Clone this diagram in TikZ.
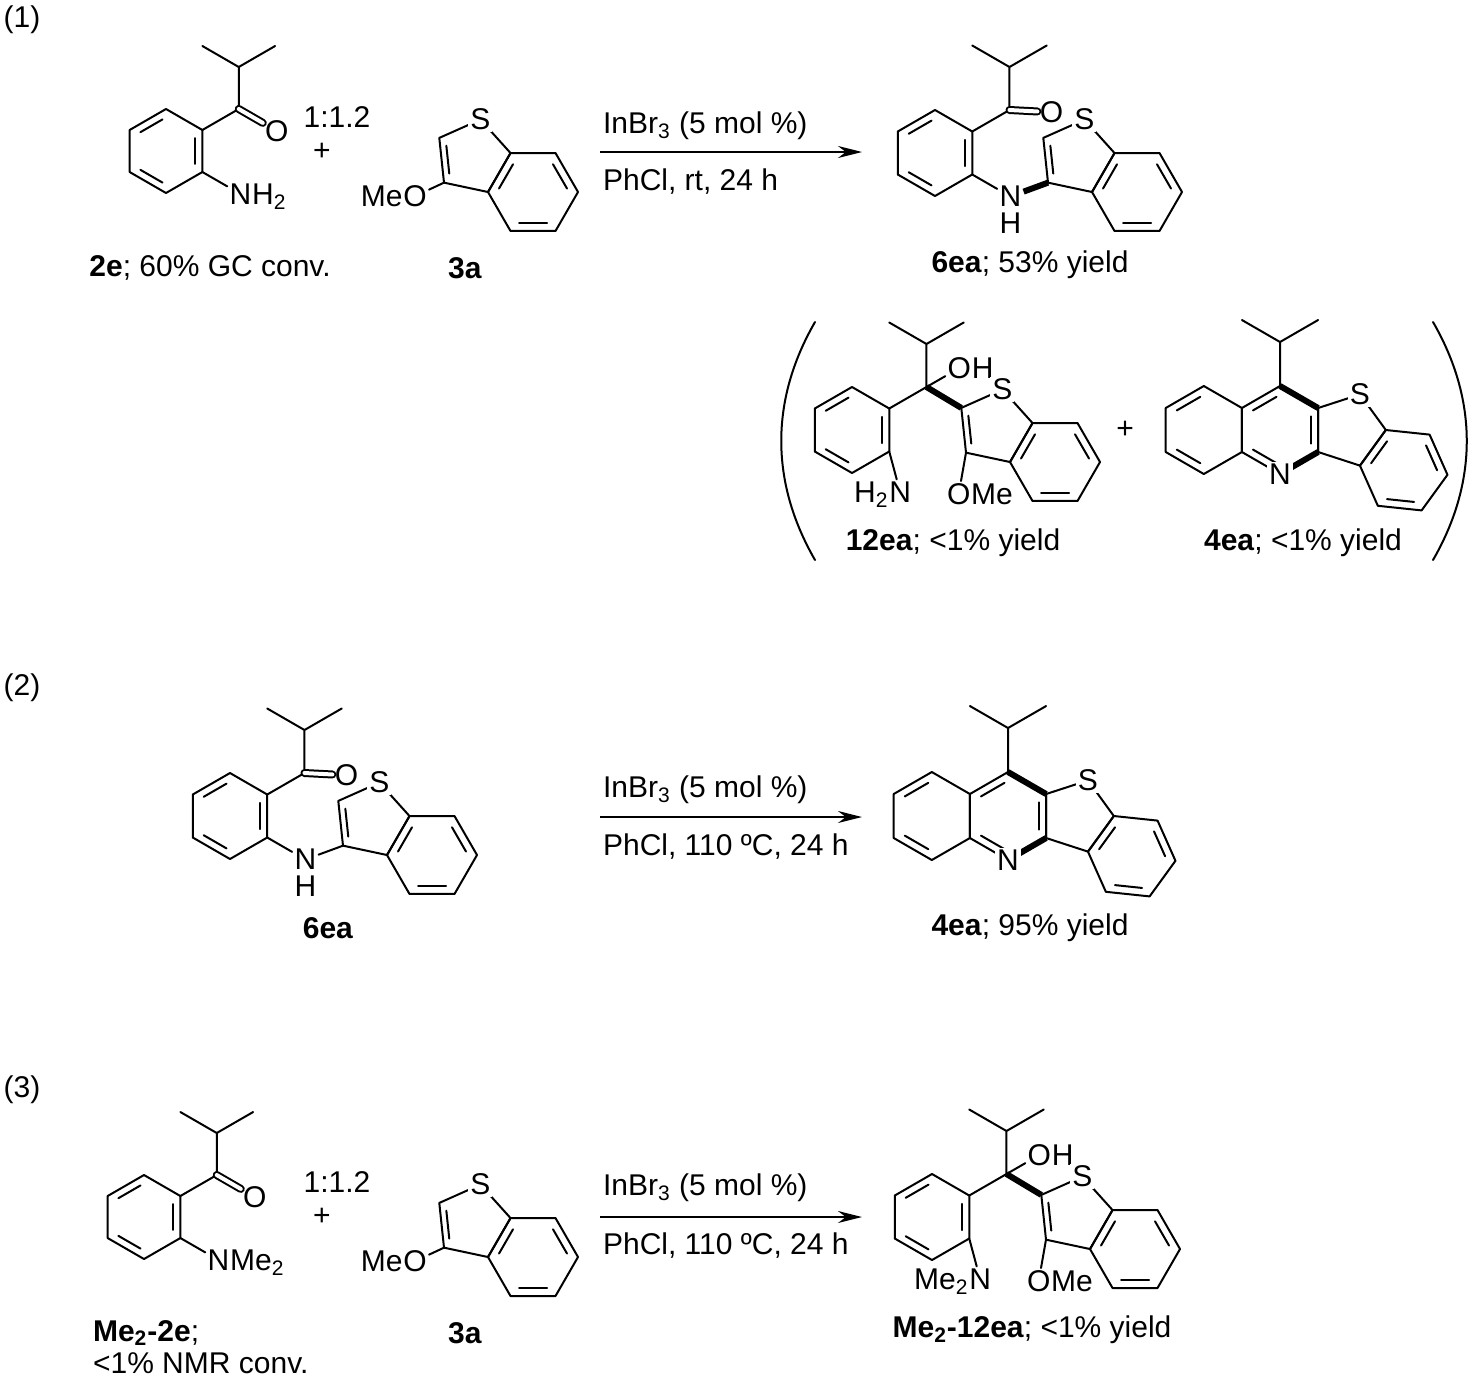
\documentclass[tikz,border=0pt]{standalone}
\usepackage{fontspec}
\setmainfont{Liberation Sans}
\usetikzlibrary{calc,arrows.meta}
\tikzset{
  bond/.style={line width=1pt,line cap=round,line join=round},
  boldb/.style={line width=3pt,line cap=butt},
  lab/.style={fill=white,inner sep=1pt},
  arr/.style={line width=1pt,-{Stealth[length=12pt,width=6pt]}},
  txt/.style={inner sep=0pt}
}
\newcommand\poly[5]{%
  \coordinate (#1c) at #2;
  \foreach \k in {1,...,#5}{\coordinate (#1\k) at ($(#1c)+({#4+360/#5*(\k-1)}:{#3})$);}
  \draw[bond] (#11) \foreach \k in {2,...,#5}{-- (#1\k)} -- cycle;}
\newcommand\inb[3]{\draw[bond,shorten <=2pt,shorten >=2pt] ($(#1#2)!0.2!(#1c)$) -- ($(#1#3)!0.2!(#1c)$);}
\newcommand\bthio[4]{%
  \poly{#1h}{#2}{#3}{#4}{6}
  \poly{#1p}{($(#1hc)+({#4+210}:{1.554*#3})$)}{0.8507*#3}{#4+66}{5}
  \inb{#1h}{4}{5}\inb{#1h}{6}{1}\inb{#1h}{2}{3}}
% 2e-type
\newcommand\twoE[4]{%
  \def\ox{#2}\def\oy{#3}%
  \poly{#1a}{({166+\ox},{151+\oy})}{42}{270}{6}
  \inb{#1a}{6}{1}\inb{#1a}{2}{3}\inb{#1a}{4}{5}
  \coordinate (#1C) at ($(#1a2)+(330:42)$);
  \coordinate (#1H) at ($(#1C)+(270:42)$);
  \draw[bond] (#1a2)--(#1C)--(#1H)--++(210:42) (#1H)--++(330:42);
  \node[lab] (#1O) at ($(#1C)+(30:44)$) {O};
  \draw[bond,double,double distance=2pt] (#1C)--(#1O);
  \node[lab] (#1N) at ($(#1a3)+(30:44)$) {N};
  \node[anchor=base west,inner sep=0pt,xshift=-1pt] at (#1N.base east) {#4};
  \draw[bond] (#1a3)--(#1N);}
% 3a
\newcommand\thrA[3]{%
  \def\ox{#2}\def\oy{#3}%
  \bthio{#1}{({533+\ox},{192+\oy})}{45}{0}\inb{#1p}{2}{3}
  \node[lab] (#1O) at ($(#1p2)+(155:32)$) {O};
  \node[anchor=base east,inner sep=0pt,xshift=1pt] at (#1O.base west) {Me};
  \draw[bond] (#1p2)--(#1O);
  \node[lab] at (#1p4) {S};}
% 6ea
\newcommand\sixEA[4]{%
  \def\ox{#2}\def\oy{#3}%
  \poly{#1a}{({935+\ox},{153+\oy})}{43}{270}{6}
  \inb{#1a}{6}{1}\inb{#1a}{2}{3}\inb{#1a}{4}{5}
  \coordinate (#1C) at ($(#1a2)+(330:43)$);
  \coordinate (#1H) at ($(#1C)+(270:43)$);
  \draw[bond] (#1a2)--(#1C)--(#1H)--++(210:43) (#1H)--++(330:43);
  \node[lab] (#1O) at ($(#1C)+(3:42)$) {O};
  \draw[bond,double,double distance=2pt] (#1C)--(#1O);
  \node[lab] (#1N) at ($(#1a3)+(30:44)$) {N};
  \node[anchor=north,inner sep=0pt] at ([yshift=-1.5pt]#1N.south) {H};
  \draw[bond] (#1a3)--(#1N);
  \bthio{#1}{({1137+\ox},{192+\oy})}{45}{0}\inb{#1p}{2}{3}
  \draw[#4] (#1N)--(#1p2);
  \node[lab] at (#1p4) {S};}
% 12ea
\newcommand\twelveEA[4]{%
  \def\ox{#2}\def\oy{#3}%
  \poly{#1a}{({852+\ox},{430+\oy})}{43}{270}{6}
  \inb{#1a}{6}{1}\inb{#1a}{2}{3}\inb{#1a}{4}{5}
  \coordinate (#1C) at ($(#1a2)+(330:43)$);
  \coordinate (#1H) at ($(#1C)+(270:43)$);
  \draw[bond] (#1a2)--(#1C)--(#1H)--++(210:43) (#1H)--++(330:43);
  \node[lab] (#1O) at ($(#1C)+(330:38)$) {O};
  \node[anchor=base west,inner sep=0pt,xshift=-1pt] at (#1O.base east) {H};
  \draw[bond] (#1C)--(#1O);
  \bthio{#1}{({1055+\ox},{462+\oy})}{45}{0}\inb{#1p}{2}{3}
  \draw[boldb] (#1C)--(#1p3);
  \node[lab] at (#1p4) {S};
  \node[lab] (#1M) at ($(#1p2)+(100:42)$) {O};
  \node[anchor=base west,inner sep=0pt,xshift=-1pt] at (#1M.base east) {Me};
  \draw[bond] (#1p2)--(#1M);
  \node[lab] (#1N) at ($(#1a3)+(75:42)$) {N};
  \node[anchor=base east,inner sep=0pt,xshift=1pt] at (#1N.base west) {#4};
  \draw[bond] (#1a3)--(#1N);}
% 4ea
\newcommand\fourEA[3]{%
  \def\ox{#2}\def\oy{#3}%
  \poly{#1y}{({1280+\ox},{430+\oy})}{44}{270}{6}
  \poly{#1q}{({1203.8+\ox},{430+\oy})}{44}{270}{6}
  \inb{#1q}{6}{1}\inb{#1q}{4}{5}
  \inb{#1y}{6}{1}\inb{#1y}{2}{3}\inb{#1y}{4}{5}
  \bthio{#1}{($(#1yc)+(0:68.38)+(36:68.38)$)}{44}{6}
  \draw[boldb] (#1y1)--(#1y2);
  \draw[boldb] (#1y3)--(#1y4);
  \coordinate (#1H) at ($(#1y1)+(270:44)$);
  \draw[bond] (#1y1)--(#1H)--++(210:44) (#1H)--++(330:44);
  \node[lab] at (#1y4) {N};
  \node[lab] at (#1p4) {S};}
\begin{document}
\begin{tikzpicture}[x=0.5pt,y=-0.5pt,font=\fontsize{15}{17}\selectfont]
\useasboundingbox (0,0) rectangle (1475,1382);
\fill[white] (0,0) rectangle (1475,1382);
% ---------- (1)
\node (l1) at (22,20) {(1)};
\twoE{A}{0}{0}{H\textsubscript{2}}
\thrA{B}{0}{0}
\node (r1) at (337,117) {1:1.2};
\node (p1) at (322,152) {+};
\node (t2e) at (210,268) {\textbf{2e}; 60\% GC conv.};
\node (t3a) at (465,268) {\textbf{3a}};
\coordinate (a1s) at (600,152); \coordinate (a1e) at (862,152);
\draw[arr] (a1s)--(a1e);
\node[anchor=west] (c1a) at (596,126) {InBr\textsubscript{3} (5 mol \%)};
\node[anchor=west] (c1b) at (596,182) {PhCl, rt, 24 h};
\sixEA{C}{0}{0}{boldb}
\node (t6ea) at (1030,265) {\textbf{6ea}; 53\% yield};
\twelveEA{D}{0}{0}{H\textsubscript{2}}
\fourEA{E}{0}{0}
\node (p2) at (1125,430) {+};
\node (t12) at (953,543) {\textbf{12ea}; <1\% yield};
\node (t4) at (1303,543) {\textbf{4ea}; <1\% yield};
\draw[bond] (815,322) .. controls (770,400) and (770,482) .. (815,560);
\draw[bond] (1433,322) .. controls (1478,400) and (1478,482) .. (1433,560);
% ---------- (2)
\node (l2) at (22,688) {(2)};
\sixEA{F}{-705}{663}{bond}
\node (t6b) at (328,928) {\textbf{6ea}};
\coordinate (a2s) at (600,817); \coordinate (a2e) at (862,817);
\draw[arr] (a2s)--(a2e);
\node[anchor=west] (c2a) at (596,790) {InBr\textsubscript{3} (5 mol \%)};
\node[anchor=west] (c2b) at (596,847) {PhCl, 110 ºC, 24 h};
\fourEA{G}{-272}{386}
\node (t4b) at (1030,928) {\textbf{4ea}; 95\% yield};
% ---------- (3)
\node (l3) at (22,1090) {(3)};
\twoE{H}{-22}{1066}{Me\textsubscript{2}}
\thrA{I}{0}{1065}
\node (r3) at (337,1182) {1:1.2};
\node (p3) at (322,1217) {+};
\node[anchor=west] (tm1) at (86,1333) {\textbf{Me\textsubscript{2}-2e};};
\node[anchor=west] (tm2) at (86,1363) {<1\% NMR conv.};
\node (t3b) at (465,1333) {\textbf{3a}};
\coordinate (a3s) at (600,1217); \coordinate (a3e) at (862,1217);
\draw[arr] (a3s)--(a3e);
\node[anchor=west] (c3a) at (596,1188) {InBr\textsubscript{3} (5 mol \%)};
\node[anchor=west] (c3b) at (596,1246) {PhCl, 110 ºC, 24 h};
\twelveEA{J}{80}{787}{Me\textsubscript{2}}
\node (t12b) at (1032,1330) {\textbf{Me\textsubscript{2}-12ea}; <1\% yield};
\end{tikzpicture}
\end{document}
